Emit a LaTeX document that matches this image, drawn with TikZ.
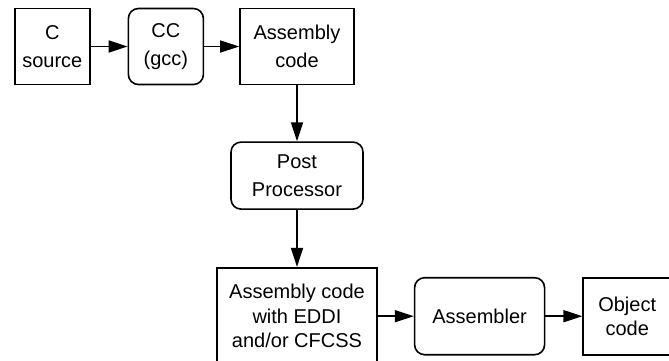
\documentclass[tikz,border=0pt]{standalone}
\usepackage{fontspec}
\setmainfont{Liberation Sans}
\usepackage{xcolor}
\definecolor{cLine}{HTML}{000000}
\usepackage{tikz}
\usetikzlibrary{positioning,arrows.meta}
\tikzset{
  node-box/.style={draw=cLine,line width=1.6pt,inner sep=0pt,align=center,
    font=\fontsize{20}{27.5}\selectfont},
  node-tool/.style={node-box,rounded corners=10pt},
  node-tight/.style={font=\fontsize{20}{24.5}\selectfont},
  arrow/.style={-{Triangle[length=19pt,width=12pt]},line width=1.6pt,draw=cLine},
}

\begin{document}
\begin{tikzpicture}[x=1pt,y=1pt]
  \useasboundingbox (0,0) rectangle (669,-360);
  \node[node-box,minimum width=75pt,minimum height=76pt] (src) at (52.3,-46.5) {C\\source};
  \node[node-tool,minimum width=75pt,minimum height=76pt,right=37pt of src] (cc) {CC\\(gcc)};
  \node[node-box,minimum width=114pt,minimum height=76pt,right=35pt of cc] (asm) {Assembly\\code};
  \node[node-tool,minimum width=132pt,minimum height=67pt,below=56pt of asm] (post) {Post\\Processor};
  \node[node-box,node-tight,minimum width=160pt,minimum height=97pt,below=57pt of post] (eddi) {Assembly code\\with EDDI\\and/or CFCSS};
  \node[node-tool,minimum width=130pt,minimum height=77pt,right=36pt of eddi] (as) {Assembler};
  \node[node-box,node-tight,minimum width=88pt,minimum height=77pt,right=37pt of as] (obj) {Object\\code};
  \draw[arrow] (src) -- (cc);
  \draw[arrow] (cc) -- (asm);
  \draw[arrow] (asm) -- (post);
  \draw[arrow] (post) -- (eddi);
  \draw[arrow] (eddi) -- (as);
  \draw[arrow] (as) -- (obj);
\end{tikzpicture}
\end{document}
